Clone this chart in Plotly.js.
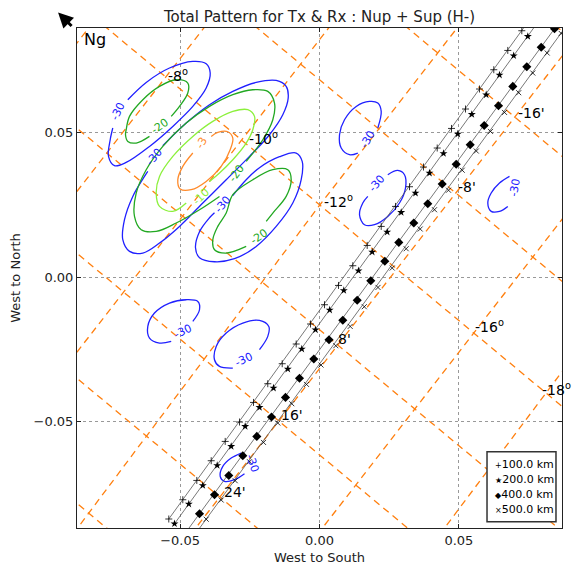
<!DOCTYPE html>
<html><head><meta charset="utf-8">
<script src="https://cdn.plot.ly/plotly-3.0.1.min.js"></script>
<style>html,body{margin:0;padding:0;background:#fff}#g{width:574px;height:571px}</style>
</head><body><div id="g"></div>
<script>
// ---------- data ----------
const xRange = [-0.087, 0.087];
const yRange = [-0.0867, 0.0863];

// tracks (100, 200, 400, 500 km)
const trackNames = ['100.0 km', '200.0 km', '400.0 km', '500.0 km'];
const t100X = [0.07258,0.06755,0.06253,0.05740,0.05238,0.04736,0.04223,0.03731,0.03229,0.02727,0.02214,0.01711,0.01195,0.00682,0.00179,-0.00323,-0.00836,-0.01338,-0.01855,-0.02368,-0.02870,-0.03383,-0.03885,-0.04402,-0.04904,-0.05407];
const t100Y = [0.08536,0.07854,0.07186,0.06519,0.05827,0.05155,0.04477,0.03820,0.03138,0.02457,0.01765,0.01107,0.00405,-0.00277,-0.00945,-0.01612,-0.02304,-0.02986,-0.03678,-0.04325,-0.05003,-0.05674,-0.06342,-0.07024,-0.07692,-0.08359];
const t200X = [0.07473,0.06967,0.06458,0.05980,0.05464,0.04962,0.04449,0.03946,0.03444,0.02931,0.02429,0.01891,0.01399,0.00872,0.00366,-0.00144,-0.00635,-0.01137,-0.01650,-0.02153,-0.02666,-0.03168,-0.03670,-0.04187,-0.04689,-0.05202];
const t200Y = [0.08339,0.07671,0.07003,0.06321,0.05640,0.04962,0.04290,0.03612,0.02920,0.02249,0.01571,0.00879,0.00232,-0.00450,-0.01128,-0.01810,-0.02477,-0.03169,-0.03827,-0.04498,-0.05155,-0.05847,-0.06505,-0.07197,-0.07840,-0.08522];
const t400X = [0.08431,0.07954,0.07437,0.06935,0.06422,0.05909,0.05407,0.04904,0.04402,0.03885,0.03383,0.02845,0.02343,0.01840,0.01353,0.00836,0.00341,-0.00204,-0.00718,-0.01220,-0.01722,-0.02249,-0.02752,-0.03254,-0.03767,-0.04305];
const t400Y = [0.08605,0.07965,0.07290,0.06609,0.05941,0.05259,0.04591,0.03917,0.03232,0.02550,0.01882,0.01211,0.00561,-0.00114,-0.00789,-0.01481,-0.02156,-0.02823,-0.03488,-0.04152,-0.04830,-0.05501,-0.06169,-0.06851,-0.07519,-0.08176];
const t500X = [0.08671,0.08169,0.07652,0.07147,0.06637,0.06135,0.05625,0.05120,0.04628,0.04126,0.03613,0.03110,0.02608,0.02099,0.01607,0.01101,0.00585,0.00054,-0.00466,-0.00994,-0.01496,-0.02009,-0.02511,-0.03024,-0.03527,-0.04065];
const t500Y = [0.08442,0.07764,0.07072,0.06391,0.05709,0.05052,0.04373,0.03709,0.03017,0.02342,0.01675,0.00993,0.00325,-0.00346,-0.01014,-0.01695,-0.02363,-0.03031,-0.03702,-0.04370,-0.05038,-0.05709,-0.06377,-0.07034,-0.07702,-0.08366];
// track line end points (bottom, top)
const trackEndX = [[-0.05407,0.07760],[-0.05202,0.07975],[-0.04815,0.08940],[-0.04574,0.09177]];
const trackEndY = [[-0.08359,0.09217],[-0.08522,0.09020],[-0.08847,0.09276],[-0.09034,0.09124]];

// graticule: "/" lines (degrees)
const latLineX = [[-0.07857,-0.08969],[-0.08969,-0.03875],[-0.08969,0.00753],[0.05381,0.00011,-0.08861],[-0.04628,0.08969],[-0.00083,0.08969],[0.04305,0.08969]];
const latLineY = [[0.09159,0.07775],[0.02643,0.08972],[-0.02917,0.09159],[0.09183,0.02505,-0.08903],[-0.08903,0.07986],[-0.08903,0.02342],[-0.08903,-0.02917]];
// graticule: "\" lines (minutes)
const lonLineX = [[0.08119,0.08969],[0.02719,0.08969],[-0.02680,0.08969],[-0.08076,0.08969],[-0.08969,0.08847],[-0.08969,0.03448],[-0.08969,-0.01948],[-0.08969,-0.07347]];
const lonLineY = [[0.08986,0.08304],[0.08986,0.03976],[0.08986,-0.00349],[0.08986,-0.04674],[0.05377,-0.08903],[0.01048,-0.08903],[-0.03277,-0.08903],[-0.07602,-0.08903]];
const gratLabels = ['-8<sup>o</sup>','-10<sup>o</sup>','-12<sup>o</sup>','-16<sup>o</sup>','-18<sup>o</sup>',"-16'","-8'","8'","16'","24'"];
const gratLabelX = [-0.05525,-0.02619,0.00072,0.05489,0.07900,0.07032,0.04879,0.00574,-0.01471,-0.03516];
const gratLabelY = [0.07013,0.04834,0.02654,-0.01671,-0.03851,0.05699,0.03138,-0.02121,-0.04751,-0.07415];

// contour levels (dB) and their curves
const levelColors = {'-30':'#2020ff','-20':'#22a822','-10':'#8cf03c','-3':'#ff8a2a'};
const contourLevel = ['-30','-20','-30','-20','-10','-3','-30','-20','-30','-30','-30','-30','-30','-30'];
const contourX = [
 [-0.06877,-0.06217,-0.05381,-0.04545,-0.04065,-0.03921,-0.04065,-0.04545,-0.05263,-0.06099,-0.06935,-0.07355,-0.07570,-0.07509,-0.07416],
 [-0.06099,-0.06576,-0.06877,-0.06960,-0.06935,-0.06816,-0.06339,-0.05740,-0.05141,-0.04725,-0.04725,-0.05023,-0.05320],
 [-0.05622,-0.04782,-0.03946,-0.03110,-0.02271,-0.01553,-0.01195,-0.01123,-0.01317,-0.01794,-0.02511,-0.03347,-0.04187,-0.05023,-0.05740,-0.06339,-0.06816,-0.07057,-0.06996,-0.06698,-0.06278,-0.06160],
 [-0.02630,-0.02034,-0.01675,-0.01614,-0.01855,-0.02393,-0.03110,-0.03946,-0.04782,-0.05622,-0.06217,-0.06576,-0.06637,-0.06397,-0.05859,-0.05141,-0.04305,-0.03588],
 [-0.03946,-0.03588,-0.03110,-0.02630,-0.02393,-0.02332,-0.02572,-0.03110,-0.03828,-0.04545,-0.05263,-0.05740,-0.05859,-0.05740,-0.05263,-0.04782],
 [-0.04545,-0.04904,-0.05084,-0.04998,-0.04603,-0.04065,-0.03527,-0.03204,-0.03110,-0.03290,-0.03649,-0.03885],
 [-0.03121,-0.02630,-0.02153,-0.01435,-0.00836,-0.00621,-0.00657,-0.00958,-0.01553,-0.02271,-0.03049,-0.03767,-0.04305,-0.04449,-0.04305,-0.03946,-0.03767],
 [-0.02630,-0.03347,-0.03767,-0.03828,-0.03649,-0.03347,-0.03110,-0.02393,-0.01675,-0.01137,-0.01015,-0.01195,-0.01675,-0.01912],
 [0.02092,0.02214,0.02092,0.01794,0.01317,0.00897,0.00718,0.00779,0.01076,0.01374],
 [0.02450,0.02809,0.03049,0.03085,0.02870,0.02450,0.01973,0.01614,0.01435,0.01553,0.01733],
 [0.06816,0.06458,0.06160,0.06038,0.06160,0.06458,0.06755],
 [-0.04545,-0.04305,-0.04366,-0.04782,-0.05381,-0.05920,-0.06160,-0.06099,-0.05740,-0.05320],
 [-0.02153,-0.01855,-0.01819,-0.02153,-0.02752,-0.03347,-0.03706,-0.03767,-0.03588,-0.03110],
 [-0.02809,-0.03168,-0.03469,-0.03563,-0.03408,-0.03049,-0.02691]
];
const contourY = [
 [0.06148,0.06747,0.07245,0.07474,0.07394,0.07072,0.06553,0.05917,0.05225,0.04533,0.03979,0.03865,0.04187,0.04764,0.05169],
 [0.04879,0.04650,0.04706,0.04937,0.05110,0.05571,0.06148,0.06609,0.06840,0.06726,0.06380,0.05917,0.05571],
 [0.04557,0.05342,0.05975,0.06436,0.06747,0.06816,0.06609,0.06207,0.05629,0.04937,0.04187,0.03380,0.02574,0.01765,0.01190,0.00844,0.00900,0.01304,0.01996,0.02803,0.03495,0.03668],
 [0.04014,0.04764,0.05456,0.06034,0.06436,0.06494,0.06321,0.05917,0.05342,0.04533,0.03726,0.02920,0.02111,0.01650,0.01592,0.01882,0.02342,0.02803],
 [0.03322,0.03612,0.04072,0.04650,0.05110,0.05571,0.05802,0.05744,0.05398,0.04879,0.04187,0.03495,0.02920,0.02457,0.02284,0.02574],
 [0.04304,0.03841,0.03380,0.03059,0.03034,0.03322,0.03841,0.04418,0.04823,0.05041,0.05017,0.04879],
 [0.02827,0.03380,0.03796,0.04176,0.04304,0.04014,0.03380,0.02574,0.01765,0.01073,0.00647,0.00543,0.00682,0.01028,0.01581,0.02066,0.02239],
 [0.01073,0.00844,0.00958,0.01304,0.01765,0.02228,0.02861,0.03380,0.03726,0.03726,0.03380,0.02803,0.02228,0.01938],
 [0.05169,0.05744,0.06034,0.06090,0.05917,0.05456,0.04937,0.04477,0.04245,0.04304],
 [0.03553,0.03702,0.03553,0.03093,0.02574,0.02111,0.01823,0.01823,0.02169,0.02574,0.02803],
 [0.03495,0.03266,0.02920,0.02574,0.02284,0.02284,0.02457],
 [-0.01522,-0.01118,-0.00830,-0.00772,-0.00886,-0.01232,-0.01695,-0.02097,-0.02270,-0.02214],
 [-0.02502,-0.02041,-0.01695,-0.01488,-0.01578,-0.01924,-0.02387,-0.02848,-0.03079,-0.03135],
 [-0.06076,-0.06249,-0.06539,-0.06885,-0.07058,-0.07000,-0.06792]
];
// inline contour labels
const cLabelText = ['-30','-20','-30','-20','-10','-3','-30','-20','-30','-30','-30','-30','-30','-30'];
const cLabelX = [-0.07236,-0.05740,-0.05920,-0.02988,-0.04244,-0.04244,-0.03469,-0.02153,0.01733,0.02056,0.06996,-0.04904,-0.02691,-0.02393];
const cLabelY = [0.05744,0.05225,0.04187,0.03612,0.02803,0.04650,0.02515,0.01419,0.04764,0.03242,0.03093,-0.01868,-0.02848,-0.06422];
const cLabelAngle = [-65,-35,-50,-55,-45,-60,-50,-35,-60,-50,-80,-25,-25,70];

const legendGlyphs = ['+','★','◆','×'];
const tickVals = [-0.05, 0, 0.05];
const tickText = ['\u22120.05','0.00','0.05'];

// ---------- build figure ----------
const FONT = 'DejaVu Sans, sans-serif';
const traces = [];
const gratStyle = {color:'rgb(255,127,14)', width:1.3, dash:'7px,5px'};
latLineX.forEach((xs,i)=>traces.push({x:xs,y:latLineY[i],mode:'lines',line:gratStyle,hoverinfo:'skip',showlegend:false}));
lonLineX.forEach((xs,i)=>traces.push({x:xs,y:lonLineY[i],mode:'lines',line:gratStyle,hoverinfo:'skip',showlegend:false}));
contourX.forEach((xs,i)=>traces.push({x:xs,y:contourY[i],mode:'lines',
  line:{color:levelColors[contourLevel[i]],width:1.3,shape:'spline',smoothing:1},hoverinfo:'skip',showlegend:false}));

const tX=[t100X,t200X,t400X,t500X], tY=[t100Y,t200Y,t400Y,t500Y];
const syms=['cross-thin','star','diamond','x-thin'];
const sizes=[5,6,7,5];
for(let i=0;i<4;i++){
  traces.push({x:trackEndX[i],y:trackEndY[i],mode:'lines',line:{color:'#555',width:0.8},hoverinfo:'skip',showlegend:false});
  traces.push({x:tX[i],y:tY[i],mode:'markers',name:trackNames[i],showlegend:false,
    marker:{symbol:syms[i],size:sizes[i],color:'#000',line:{color:'#000',width:i===0||i===3?0.8:0}}});
}

const ann = [];
gratLabels.forEach((t,i)=>ann.push({x:gratLabelX[i],y:gratLabelY[i],xref:'x',yref:'y',text:t,showarrow:false,
  xanchor:'left',yanchor:'middle',font:{family:FONT,size:14,color:'#000'}}));
cLabelText.forEach((t,i)=>ann.push({x:cLabelX[i],y:cLabelY[i],xref:'x',yref:'y',text:t,showarrow:false,
  textangle:cLabelAngle[i],xanchor:'center',yanchor:'middle',font:{family:FONT,size:11,color:levelColors[t]}}));
// Ng label
ann.push({x:0.010,y:0.977,xref:'paper',yref:'paper',text:'Ng',showarrow:false,xanchor:'left',yanchor:'middle',
  font:{family:FONT,size:16,color:'#000'}});
// north arrow
ann.push({x:-0.039,y:1.031,xref:'paper',yref:'paper',text:'',showarrow:true,ax:15,ay:15,
  arrowhead:2,arrowsize:1,arrowwidth:3,arrowcolor:'#000'});
// manual legend
const legY=[0.1266,0.0966,0.0676,0.038];
legendGlyphs.forEach((g,i)=>ann.push({x:0.858,y:legY[i],xref:'paper',yref:'paper',showarrow:false,xanchor:'left',yanchor:'middle',
  text:'<span style="font-size:8px">'+g+'</span>'+trackNames[i],font:{family:FONT,size:11,color:'#000'}}));

const layout = {
  width:574,height:571,
  margin:{l:77,r:12,t:28,b:43},
  paper_bgcolor:'#fff',plot_bgcolor:'#fff',
  font:{family:FONT,size:13,color:'#222'},
  title:{text:'Total Pattern for Tx & Rx : Nup + Sup (H-)',x:0.5,xref:'paper',y:0.97,yref:'container',yanchor:'middle',
    font:{family:FONT,size:15,color:'#222'}},
  showlegend:false,
  xaxis:{range:xRange,tickvals:tickVals,ticktext:tickText,showgrid:true,gridcolor:'#999',griddash:'dot',gridwidth:1,
    zeroline:false,showline:true,mirror:'ticks',linecolor:'#222',linewidth:1,ticks:'inside',ticklen:4,tickcolor:'#222',
    tickfont:{family:FONT,size:13,color:'#222'},
    title:{text:'West to South',font:{family:FONT,size:13,color:'#222'},standoff:6}},
  yaxis:{range:yRange,tickvals:tickVals,ticktext:tickText,showgrid:true,gridcolor:'#999',griddash:'dot',gridwidth:1,
    zeroline:false,showline:true,mirror:'ticks',linecolor:'#222',linewidth:1,ticks:'inside',ticklen:4,tickcolor:'#222',
    tickfont:{family:FONT,size:13,color:'#222'},
    title:{text:'West to North',font:{family:FONT,size:13,color:'#222'},standoff:10}},
  shapes:[{type:'rect',xref:'paper',yref:'paper',x0:0.8454,x1:0.9876,y0:0.0126,y1:0.1526,
    line:{color:'#333',width:1.5},fillcolor:'#fff',layer:'above'}],
  annotations:ann
};
Plotly.newPlot('g',traces,layout,{staticPlot:true});
</script></body></html>
